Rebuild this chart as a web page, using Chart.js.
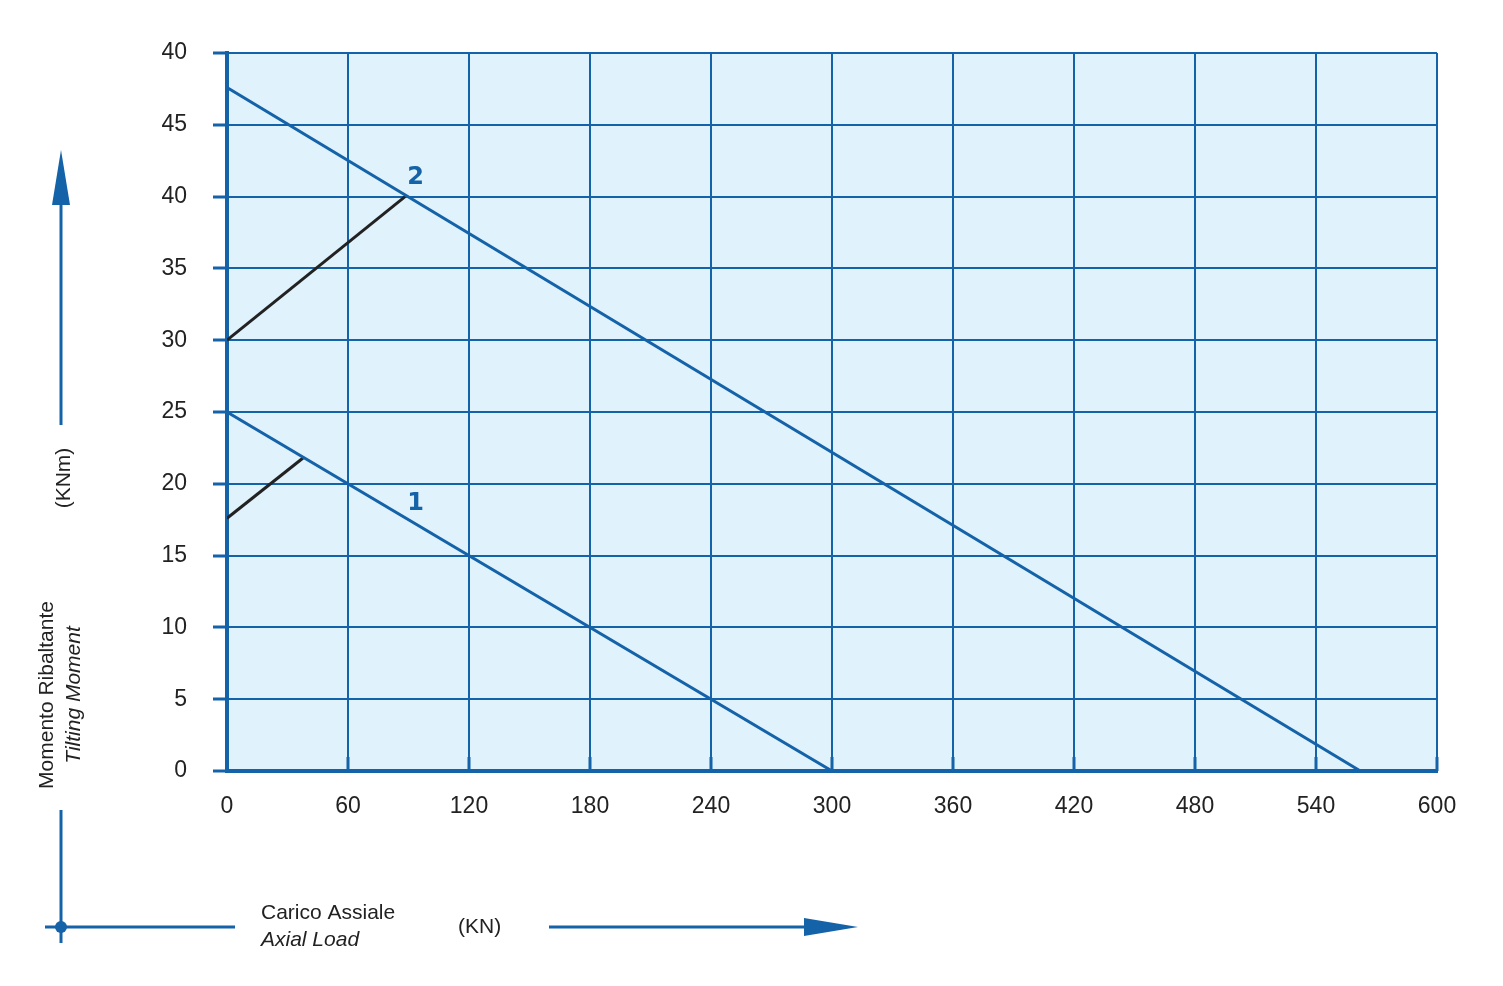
<!DOCTYPE html>
<html><head><meta charset="utf-8">
<script src="https://cdn.jsdelivr.net/npm/chart.js@4"></script>
<style>html,body{margin:0;padding:0;background:#fff}#c{display:block}</style>
</head><body>
<div style="width:1503px;height:986px"><canvas id="c" width="1503" height="986"></canvas></div>
<script>
const xTicks=[0,60,120,180,240,300,360,420,480,540,600];
const yTickLabels=["0","5","10","15","20","25","30","35","40","45","40"];
const curve1=[{x:0,y:25},{x:300,y:0}];
const curve2=[{x:0,y:47.6},{x:562,y:0}];
const limit1=[{x:0,y:17.6},{x:37.7,y:21.8}];
const limit2=[{x:0,y:30},{x:88.3,y:40}];
const labels=[{t:"1",x:93.5,y:18.6},{t:"2",x:93.5,y:41.3}];
const BLUE='#1462a8';
const deco={id:'deco',
beforeDraw(c){const a=c.chartArea,g=c.ctx;g.save();g.fillStyle='#e0f2fc';g.fillRect(a.left,a.top,a.right-a.left,a.bottom-a.top);g.restore();},
afterDraw(c){const g=c.ctx,xs=c.scales.x,ys=c.scales.y,a=c.chartArea;g.save();
g.strokeStyle=BLUE;g.lineWidth=3;
xTicks.forEach(v=>{const px=xs.getPixelForValue(v);g.beginPath();g.moveTo(px,a.bottom);g.lineTo(px,a.bottom-14);g.stroke();});
g.fillStyle=BLUE;g.font='900 24px "DejaVu Sans"';g.textAlign='center';g.textBaseline='middle';
labels.forEach(l=>g.fillText(l.t,xs.getPixelForValue(l.x),ys.getPixelForValue(l.y)));
g.lineWidth=3;
g.beginPath();g.moveTo(61,425);g.lineTo(61,195);g.stroke();
g.beginPath();g.moveTo(61,150);g.lineTo(52,205);g.lineTo(70,205);g.closePath();g.fill();
g.beginPath();g.moveTo(61,810);g.lineTo(61,943);g.stroke();
g.beginPath();g.moveTo(45,927);g.lineTo(235,927);g.stroke();
g.beginPath();g.arc(61,927,6,0,Math.PI*2);g.fill();
g.beginPath();g.moveTo(549,927);g.lineTo(810,927);g.stroke();
g.beginPath();g.moveTo(858,927);g.lineTo(804,918);g.lineTo(804,936);g.closePath();g.fill();
g.fillStyle='#222';g.textBaseline='middle';
g.save();g.translate(47,695);g.rotate(-Math.PI/2);g.textAlign='center';
g.font='21px "Liberation Sans"';g.fillText('Momento Ribaltante',0,0);
g.font='italic 21px "Liberation Sans"';g.fillText('Tilting Moment',0,27);
g.font='21px "Liberation Sans"';g.fillText('(KNm)',217,17);g.restore();
g.textAlign='left';g.font='21px "Liberation Sans"';g.fillText('Carico Assiale',261,913);
g.font='italic 21px "Liberation Sans"';g.fillText('Axial Load',261,940);
g.font='21px "Liberation Sans"';g.fillText('(KN)',458,927);
g.restore();}};
const ds=(d,col)=>({data:d,borderColor:col,borderWidth:3,pointRadius:0,showLine:true,fill:false,tension:0});
new Chart(document.getElementById('c'),{type:'scatter',
data:{datasets:[ds(curve1,BLUE),ds(curve2,BLUE),ds(limit1,'#222'),ds(limit2,'#222')]},
plugins:[deco],
options:{responsive:false,animation:false,events:[],
layout:{padding:{top:53,right:66,left:0,bottom:0}},
plugins:{legend:{display:false},tooltip:{enabled:false}},
scales:{
x:{type:'linear',min:0,max:600,afterFit:s=>{s.height=215;},
afterBuildTicks:s=>{s.ticks=xTicks.map(v=>({value:v}));},
grid:{color:BLUE,lineWidth:2,drawTicks:false},border:{color:BLUE,width:4},
ticks:{padding:22,color:'#222',font:{family:'Liberation Sans',size:23},maxRotation:0}},
y:{type:'linear',min:0,max:50,afterFit:s=>{s.width=227;},
grid:{color:BLUE,lineWidth:2,tickLength:14,tickColor:BLUE,tickWidth:3},border:{color:BLUE,width:4},
ticks:{stepSize:5,padding:26,color:'#222',font:{family:'Liberation Sans',size:23},callback:(v,i)=>yTickLabels[i]}}
}}});
</script></body></html>
